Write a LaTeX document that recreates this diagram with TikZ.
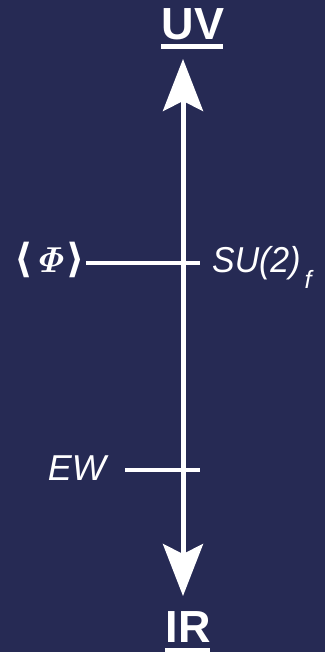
\RequirePackage{fix-cm}
\documentclass[tikz,border=0pt]{standalone}
\usepackage[no-math]{fontspec}
\usepackage{amsmath}
\usepackage{bm}
\setmainfont{Liberation Sans}
\newfontfamily\bracketfont{DejaVu Sans}
\usetikzlibrary{arrows.meta}
\definecolor{navy}{HTML}{262A54}
\tikzset{
  scaleline/.style={draw=white, line width=5pt},
  tickline/.style={draw=white, line width=4pt},
  endlabel/.style={text=white, font=\fontsize{45}{45}\selectfont\bfseries, inner sep=0pt},
  ticklabel/.style={text=white, font=\fontsize{36}{36}\selectfont\itshape, inner sep=0pt},
  bar/.style={draw=white, line width=4.5pt},
  bigtip/.tip={Stealth[length=52pt, width=40pt, inset=10pt]}
}
\begin{document}
\begin{tikzpicture}[x=1pt, y=-1pt]
  \fill[navy] (0,0) rectangle (325,652);
  \useasboundingbox (0,0) rectangle (325,652);

  % energy axis
  \coordinate (top) at (183,59);
  \coordinate (bot) at (183,596);
  \draw[scaleline, bigtip-bigtip] (top) -- (bot);

  % scale labels at the ends
  \node[endlabel, anchor=base] (uv) at (193,40) {UV};
  \draw[bar] (161,46.5) -- (223,46.5);
  \node[endlabel, anchor=base] (ir) at (188,642) {IR};
  \draw[bar] (165,650) -- (210,650);

  % flavour breaking scale
  \node[text=white, inner sep=1pt, anchor=base east, font=\fontsize{40}{40}\selectfont] (phi) at (86,272)
    {{\bracketfont\bfseries ⟨}\hspace{1pt}{\fontsize{36}{36}\selectfont$\bm{\mathit{\Phi}}$}\hspace{1pt}{\bracketfont\bfseries ⟩}};
  \coordinate (phitick) at (200,263);
  \draw[tickline] (phi.east |- phitick) -- (phitick);
  \node[ticklabel, anchor=base west] (su) at (212,272)
    {\scalebox{0.94}[1]{SU(2)}\hspace{4pt}\raisebox{-16pt}{\fontsize{25}{25}\selectfont f}};

  % electroweak scale
  \node[ticklabel, anchor=base east] (ew) at (106,480) {EW};
  \coordinate (ewleft) at (125,470);
  \coordinate (ewright) at (200,470);
  \draw[tickline] (ewleft) -- (ewright);
\end{tikzpicture}
\end{document}
